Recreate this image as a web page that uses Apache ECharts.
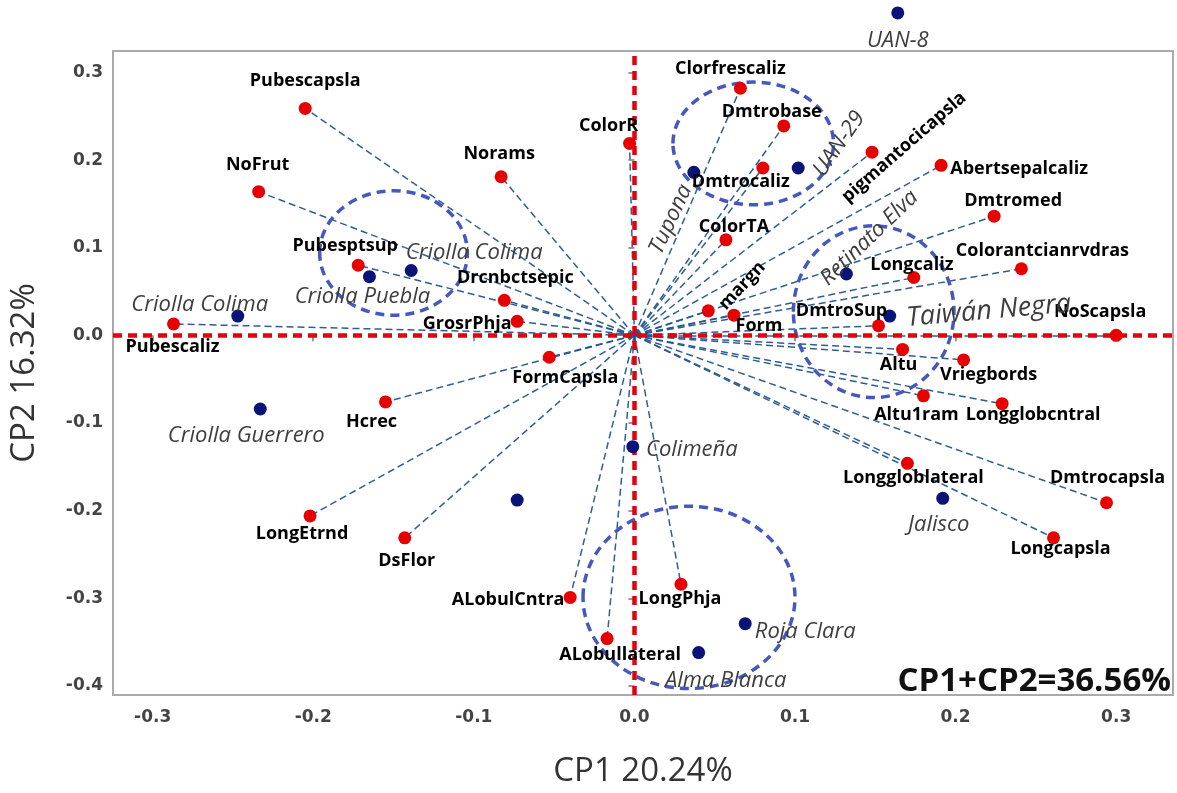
<!DOCTYPE html>
<html>
<head>
<meta charset="utf-8">
<script src="https://cdn.jsdelivr.net/npm/echarts@6/dist/echarts.min.js"></script>
<style>html,body{margin:0;padding:0;background:#fff}#c{width:1177px;height:793px}</style>
</head>
<body>
<div id="c"></div>
<script>
// ---- data ----
const varNames = ['Pubescapsla','NoFrut','Norams','ColorR','Clorfrescaliz','Dmtrobase','Dmtrocaliz','pigmantocicapsla','Abertsepalcaliz','Dmtromed','ColorTA','Colorantcianrvdras','Longcaliz','margn','Form','DmtroSup','NoScapsla','Altu','Vriegbords','Altu1ram','Longglobcntral','Longgloblateral','Dmtrocapsla','Longcapsla','LongPhja','ALobulCntra','ALobullateral','DsFlor','LongEtrnd','Hcrec','FormCapsla','GrosrPhja','Drcnbctsepic','Pubesptsup','Pubescaliz'];
const varX = [-0.205,-0.234,-0.083,-0.003,0.066,0.093,0.080,0.148,0.191,0.224,0.057,0.241,0.174,0.046,0.062,0.152,0.300,0.167,0.205,0.180,0.229,0.170,0.294,0.261,0.029,-0.040,-0.017,-0.143,-0.202,-0.155,-0.053,-0.073,-0.081,-0.172,-0.287];
const varY = [0.259,0.164,0.181,0.219,0.282,0.239,0.191,0.209,0.194,0.136,0.109,0.076,0.066,0.028,0.023,0.011,0.000,-0.016,-0.028,-0.069,-0.078,-0.146,-0.191,-0.231,-0.284,-0.299,-0.346,-0.231,-0.206,-0.076,-0.025,0.016,0.040,0.080,0.013];

const indNames = ['UAN-8','UAN-29','Tupona','Retinato Elva','Taiwán Negra','Jalisco','Roja Clara','Alma Blanca','','Colimeña','Criolla Guerrero','Criolla Colima','Criolla Puebla','Criolla Colima'];
const indX = [0.164,0.102,0.037,0.132,0.159,0.192,0.069,0.040,-0.073,-0.001,-0.233,-0.247,-0.165,-0.139];
const indY = [0.368,0.191,0.186,0.070,0.022,-0.186,-0.329,-0.362,-0.188,-0.127,-0.084,0.022,0.067,0.074];

// group ellipses (centre and radii in axis units)
const ellCx = [0.074,-0.150,0.149,0.034];
const ellCy = [0.219,0.094,0.027,-0.299];
const ellRx = [0.050,0.046,0.050,0.066];
const ellRy = [0.070,0.071,0.098,0.104];

const xTicks = [-0.3,-0.2,-0.1,0.0,0.1,0.2,0.3];
const yTicks = [-0.4,-0.3,-0.2,-0.1,0.0,0.1,0.2,0.3];
const xTitle = 'CP1 20.24%';
const yTitle = 'CP2 16.32%';
const totalText = 'CP1+CP2=36.56%';

// ---- layout (label placement in px: dx, dy, rotate, font size) ----
const varLabelPos = {
  Pubescapsla:[0,-28], NoFrut:[-1,-27], Norams:[-2,-23], ColorR:[-21,-18], Clorfrescaliz:[-10,-19],
  Dmtrobase:[-12,-14], Dmtrocaliz:[-22,14], pigmantocicapsla:[32,-5,41], Abertsepalcaliz:[78,4],
  Dmtromed:[19,-15], ColorTA:[8,-13], Colorantcianrvdras:[21,-18], Longcaliz:[-2,-13], margn:[34,-25,47],
  Form:[25,11], DmtroSup:[-37,-15], NoScapsla:[-16,-23], Altu:[-4,15], Vriegbords:[25,15],
  Altu1ram:[-7,19], Longglobcntral:[31,11], Longgloblateral:[6,15], Dmtrocapsla:[1,-25], Longcapsla:[7,11],
  LongPhja:[-1,15], ALobulCntra:[-62,2], ALobullateral:[13,16], DsFlor:[2,23], LongEtrnd:[-8,18],
  Hcrec:[-14,20], FormCapsla:[16,21], GrosrPhja:[-50,3], Drcnbctsepic:[11,-22], Pubesptsup:[-13,-19], Pubescaliz:[-1,23]
};
const indLabelPos = [[0,28],[41,-24,55,22],[-23,47,65],[23,-36,44],[99,-5,5,27],[-4,26],[60,8],[27,28],null,[59,3],[-14,27],[-38,-11],[-7,20],[63,-18]];

function labelOf(p) {
  if (!p) return {show:false};
  const dx = p[0], dy = p[1], deg = p[2] || 0;
  const r = deg * Math.PI / 180, c = Math.cos(r), s = Math.sin(r);
  const o = {offset:[c*dx - s*dy, s*dx + c*dy], rotate: deg};
  if (p[3]) o.fontSize = p[3];
  return o;
}

const varData = varNames.map((n,i) => ({name:n, value:[varX[i], varY[i]], label: labelOf(varLabelPos[n])}));
const indData = indNames.map((n,i) => ({name:n, value:[indX[i], indY[i]], label: labelOf(indLabelPos[i])}));
const loadLines = varNames.map((n,i) => ({coords:[[0,0],[varX[i], varY[i]]]}));
const ellData = ellCx.map((c,i) => [c, ellCy[i], ellRx[i], ellRy[i]]);

const chart = echarts.init(document.getElementById('c'), null, {renderer:'canvas'});
const tickFont = {fontFamily:'DejaVu Sans', fontSize:17, fontWeight:'bold', color:'#444'};
chart.setOption({
  animation:false,
  backgroundColor:'#fff',
  grid:{left:111, right:4, top:51, bottom:83, show:true, borderColor:'#aaa', borderWidth:2, backgroundColor:'transparent'},
  xAxis:{
    type:'value', min:-0.3247, max:0.3354,
    name:xTitle, nameLocation:'middle', nameGap:60,
    nameTextStyle:{fontFamily:'Open Sans', fontSize:33, color:'#333'},
    axisLine:{show:false}, splitLine:{show:false},
    axisTick:{show:true, length:6, lineStyle:{color:'#999', width:2}, customValues:xTicks},
    axisLabel:Object.assign({customValues:xTicks, margin:14, formatter:v => (Math.abs(v) < 1e-9 ? 0 : v).toFixed(1)}, tickFont)
  },
  yAxis:{
    type:'value', min:-0.4104, max:0.3245,
    name:yTitle, nameLocation:'middle', nameGap:72,
    nameTextStyle:{fontFamily:'Open Sans', fontSize:33, color:'#333'},
    axisLine:{show:false}, splitLine:{show:false},
    axisTick:{show:true, length:6, lineStyle:{color:'#999', width:2}, customValues:yTicks},
    axisLabel:Object.assign({customValues:yTicks, margin:10, formatter:v => (Math.abs(v) < 1e-9 ? 0 : v).toFixed(1)}, tickFont)
  },
  graphic:[{
    type:'text', right:6, top:665, z:20,
    style:{text:totalText, font:'bold 33px "Open Sans"', fill:'#111'}
  }],
  series:[
    {
      type:'lines', coordinateSystem:'cartesian2d', z:2, silent:true,
      lineStyle:{color:'#22558f', width:1.5, type:[7,4], opacity:0.95},
      data:loadLines
    },
    {
      type:'line', data:[], z:3, silent:true,
      markLine:{
        silent:true, symbol:['none','none'], label:{show:false},
        lineStyle:{color:'#e3000f', width:4.5, type:[9,6]},
        data:[{xAxis:0},{yAxis:0}]
      }
    },
    {
      type:'custom', z:3, silent:true, clip:false,
      data:ellData,
      renderItem:function(params, api){
        const c = api.coord([api.value(0), api.value(1)]);
        const s = api.size([api.value(2), api.value(3)]);
        return {type:'ellipse', shape:{cx:c[0], cy:c[1], rx:s[0], ry:s[1]},
          style:{fill:'none', stroke:'#4658c0', lineWidth:3.5, lineDash:[9,6]}};
      }
    },
    {
      type:'scatter', z:5, clip:false, symbolSize:13,
      itemStyle:{color:'#e60000', opacity:1},
      label:{show:true, position:'inside', formatter:'{b}', fontFamily:'Open Sans', fontWeight:'bold', fontSize:18, color:'#000', align:'center', verticalAlign:'middle'},
      data:varData
    },
    {
      type:'scatter', z:5, clip:false, symbolSize:13,
      itemStyle:{color:'#0a1478', opacity:1},
      label:{show:true, position:'inside', formatter:'{b}', fontFamily:'Open Sans', fontStyle:'italic', fontSize:22, color:'#3e3e3e', align:'center', verticalAlign:'middle'},
      data:indData
    }
  ]
});
</script>
</body>
</html>
